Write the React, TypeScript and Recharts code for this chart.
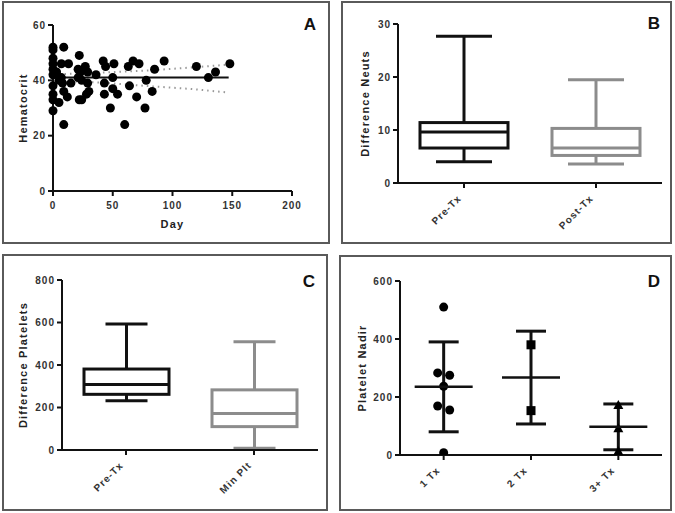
import React from 'react';
import { ComposedChart, XAxis, YAxis, Scatter, Line, Bar, ErrorBar, Label } from 'recharts';

const FONT = '"Liberation Sans", Arial, Helvetica, sans-serif';

// ---------- Panel A: Hematocrit vs Day ----------
const hctDays = [0, 0, 0, 0, 0, 0, 0, 0, 0, 0, 9, 7, 13, 5, 9, 12, 9, 7, 8, 15, 3, 5, 22, 21, 23, 27, 29, 21, 24, 29, 22, 24, 28, 30, 36, 42, 44, 51, 43, 50, 43, 54, 50, 48, 60, 63, 64, 67, 72, 70, 78, 77, 83, 85, 93, 120, 130, 136, 148];
const hctValues = [52, 51, 48, 46, 44, 42, 38, 35, 33, 29, 52, 46, 46, 32, 36, 34, 24, 41, 39, 39, 43, 40, 49, 44, 43, 45, 43, 41, 40, 39, 33, 33, 35, 36, 42, 47, 45, 46, 39, 41, 35, 35, 37, 30, 24, 45, 38, 47, 46, 34, 40, 30, 36, 44, 47, 45, 41, 43, 46];
const fitDays = [0, 147];
const fitValues = [41, 41];
const ciDays = [5, 40, 80, 115, 147];
const ciUpper = [42.2, 42.8, 43.6, 44.6, 45.7];
const ciLower = [39.8, 39.2, 37.9, 36.9, 35.6];
const dayTicks = [0, 50, 100, 150, 200];
const hctTicks = [0, 20, 40, 60];

// ---------- Panel B: Difference Neuts ----------
const neutCategories = ['Pre-Tx', 'Post-Tx'];
const neutMin = [4.0, 3.6];
const neutQ1 = [6.6, 5.2];
const neutMedian = [9.6, 6.6];
const neutQ3 = [11.4, 10.3];
const neutMax = [27.7, 19.5];
const neutTicks = [0, 10, 20, 30];

// ---------- Panel C: Difference Platelets ----------
const pltCategories = ['Pre-Tx', 'Min Plt'];
const pltMin = [232, 8];
const pltQ1 = [262, 110];
const pltMedian = [308, 172];
const pltQ3 = [381, 283];
const pltMax = [593, 510];
const pltTicks = [0, 200, 400, 600, 800];

// ---------- Panel D: Platelet Nadir ----------
const nadirCategories = ['1 Tx', '2 Tx', '3+ Tx'];
const nadir1Tx = [510, 283, 275, 237, 169, 155, 8];
const nadir1TxJitter = [0, -1, 1, 0, -1, 1, 0];
const nadir2Tx = [380, 153];
const nadir3Tx = [172, 92, 14];
const nadirMean = [235, 267, 97];
const nadirSD = [155, 160, 79];
const nadirTicks = [0, 200, 400, 600];

// ---------- derived tables ----------
const hctData = hctDays.map((d, i) => ({ day: d, hct: hctValues[i] }));
const fitData = fitDays.map((d, i) => ({ day: d, v: fitValues[i] }));
const upperData = ciDays.map((d, i) => ({ day: d, v: ciUpper[i] }));
const lowerData = ciDays.map((d, i) => ({ day: d, v: ciLower[i] }));

const neutData = neutCategories.map((n, i) => ({ name: n, min: neutMin[i], q1: neutQ1[i], median: neutMedian[i], q3: neutQ3[i], max: neutMax[i] }));
const pltData = pltCategories.map((n, i) => ({ name: n, min: pltMin[i], q1: pltQ1[i], median: pltMedian[i], q3: pltQ3[i], max: pltMax[i] }));

const d1 = nadir1Tx.map((v, i) => ({ x: 0, y: v, jitter: nadir1TxJitter[i] }));
const d2 = nadir2Tx.map((v) => ({ x: 1, y: v, jitter: 0 }));
const d3 = nadir3Tx.map((v) => ({ x: 2, y: v, jitter: 0 }));
const dMean = nadirCategories.map((n, i) => ({ x: i, mean: nadirMean[i], sd: nadirSD[i] }));

// ---------- styles ----------
const tickStyle = { fontSize: 10, fontWeight: 700, fill: '#333', fontFamily: FONT, letterSpacing: 1 };
const labelStyle = { fontSize: 11, fontWeight: 700, fill: '#222', fontFamily: FONT, letterSpacing: 1.2 };
const axisLine = { stroke: '#111', strokeWidth: 2 };
const BLACK = '#111';
const GREY = '#8c8c8c';
const COLORS = [BLACK, GREY];

const yLabel = (text: string, dx: number) => (props: any) => {
  const vb = props.viewBox || {};
  const cx = vb.x + dx;
  const cy = vb.y + vb.height / 2;
  return (
    <text x={cx} y={cy} transform={`rotate(-90 ${cx} ${cy})`} textAnchor="middle" dominantBaseline="central" style={labelStyle}>
      {text}
    </text>
  );
};

const xLabel = (text: string, dy: number) => (props: any) => {
  const vb = props.viewBox || {};
  return (
    <text x={vb.x + vb.width / 2} y={vb.y + dy} textAnchor="middle" style={labelStyle}>
      {text}
    </text>
  );
};

const makeRotTick = (labels: string[] | null, ox: number, oy: number) => (props: any) => {
  const { x, y, payload } = props;
  const txt = labels ? labels[Math.round(payload.value)] : payload.value;
  const px = x + ox;
  const py = y + oy;
  return (
    <text x={px} y={py} transform={`rotate(-45 ${px} ${py})`} textAnchor="end" style={tickStyle}>
      {txt}
    </text>
  );
};

const makeBoxShape = (capWidth: number) => (props: any) => {
  const { x, y, width, height, payload, index } = props;
  const top = Math.min(y, y + height);
  const bot = Math.max(y, y + height);
  const { min, q1, median, q3, max } = payload;
  const py = (v: number) => bot - ((v - min) / (max - min)) * (bot - top);
  const cx = x + width / 2;
  const color = COLORS[index] || BLACK;
  const sw = 3;
  return (
    <g>
      <line x1={cx} x2={cx} y1={py(max)} y2={py(q3)} stroke={color} strokeWidth={sw} />
      <line x1={cx} x2={cx} y1={py(q1)} y2={py(min)} stroke={color} strokeWidth={sw} />
      <line x1={cx - capWidth / 2} x2={cx + capWidth / 2} y1={py(max)} y2={py(max)} stroke={color} strokeWidth={sw} />
      <line x1={cx - capWidth / 2} x2={cx + capWidth / 2} y1={py(min)} y2={py(min)} stroke={color} strokeWidth={sw} />
      <rect x={x} y={py(q3)} width={width} height={py(q1) - py(q3)} fill="#fff" stroke={color} strokeWidth={sw} />
      <line x1={x} x2={x + width} y1={py(median)} y2={py(median)} stroke={color} strokeWidth={sw} />
    </g>
  );
};

const dotShape = (props: any) => <circle cx={props.cx} cy={props.cy} r={4.5} fill="#000" />;
const circleJitter = (props: any) => <circle cx={props.cx + (props.payload.jitter || 0) * 6} cy={props.cy} r={4.5} fill="#000" />;
const squareShape = (props: any) => <rect x={props.cx - 4.5} y={props.cy - 4.5} width={9} height={9} fill="#000" />;
const triShape = (props: any) => (
  <polygon points={`${props.cx},${props.cy - 5} ${props.cx - 5},${props.cy + 4} ${props.cx + 5},${props.cy + 4}`} fill="#000" />
);
const meanShape = (props: any) => <line x1={props.cx - 29} x2={props.cx + 29} y1={props.cy} y2={props.cy} stroke={BLACK} strokeWidth={2.5} />;

const Panel = ({ left, top, width, height, children }: any) => (
  <>
    <div style={{ position: 'absolute', left, top, width, height, boxSizing: 'border-box', border: '2px solid #5a5a5a' }} />
    <div style={{ position: 'absolute', left, top, width, height }}>{children}</div>
  </>
);

export default function App() {
  return (
    <div style={{ position: 'absolute', left: 0, top: 0, width: 675, height: 513, background: '#fff', fontFamily: FONT, overflow: 'hidden' }}>
      {/* Panel A */}
      <Panel left={2} top={1} width={328} height={243}>
        <ComposedChart width={328} height={243} margin={{ top: 24, right: 38, bottom: 13, left: 11 }}>
          <XAxis type="number" dataKey="day" domain={[0, 200]} ticks={dayTicks} height={40} axisLine={axisLine} tickLine={axisLine} tickSize={5} tickMargin={6} tick={tickStyle} interval={0}>
            <Label content={xLabel('Day', 37)} />
          </XAxis>
          <YAxis type="number" domain={[0, 60]} ticks={hctTicks} width={40} axisLine={axisLine} tickLine={axisLine} tickSize={5} tick={tickStyle} interval={0}>
            <Label content={yLabel('Hematocrit', 10)} />
          </YAxis>
          <Line data={upperData} dataKey="v" stroke="#999" strokeWidth={2} strokeDasharray="1.5 4" dot={false} isAnimationActive={false} />
          <Line data={lowerData} dataKey="v" stroke="#999" strokeWidth={2} strokeDasharray="1.5 4" dot={false} isAnimationActive={false} />
          <Scatter data={hctData} dataKey="hct" shape={dotShape} isAnimationActive={false} />
          <Line data={fitData} dataKey="v" stroke={BLACK} strokeWidth={2} dot={false} isAnimationActive={false} />
        </ComposedChart>
      </Panel>

      {/* Panel B */}
      <Panel left={341} top={1} width={331} height={243}>
        <ComposedChart width={331} height={243} data={neutData} margin={{ top: 23, right: 10, bottom: 11, left: 17 }}>
          <XAxis dataKey="name" height={50} axisLine={axisLine} tickLine={axisLine} tickSize={5} tick={makeRotTick(null, -2, 9)} interval={0} />
          <YAxis type="number" domain={[0, 30]} ticks={neutTicks} width={40} axisLine={axisLine} tickLine={axisLine} tickSize={5} tick={tickStyle} interval={0}>
            <Label content={yLabel('Difference Neuts', 7)} />
          </YAxis>
          <Bar dataKey={(d: any) => [d.min, d.max]} barSize={88} shape={makeBoxShape(56)} isAnimationActive={false} />
        </ComposedChart>
      </Panel>

      {/* Panel C */}
      <Panel left={2} top={254} width={326} height={257}>
        <ComposedChart width={326} height={257} data={pltData} margin={{ top: 26, right: 10, bottom: 11, left: 20 }}>
          <XAxis dataKey="name" height={50} axisLine={axisLine} tickLine={axisLine} tickSize={5} tick={makeRotTick(null, -2, 9)} interval={0} />
          <YAxis type="number" domain={[0, 800]} ticks={pltTicks} width={40} axisLine={axisLine} tickLine={axisLine} tickSize={5} tick={tickStyle} interval={0}>
            <Label content={yLabel('Difference Platelets', 1)} />
          </YAxis>
          <Bar dataKey={(d: any) => [d.min, d.max]} barSize={85} shape={makeBoxShape(42)} isAnimationActive={false} />
        </ComposedChart>
      </Panel>

      {/* Panel D */}
      <Panel left={339} top={255} width={333} height={256}>
        <ComposedChart width={333} height={256} margin={{ top: 26, right: 10, bottom: 6, left: 21 }}>
          <XAxis type="number" dataKey="x" domain={[-0.5, 2.5]} ticks={[0, 1, 2]} height={50} axisLine={axisLine} tickLine={axisLine} tickSize={5} tick={makeRotTick(nadirCategories, -3, 9)} interval={0} />
          <YAxis type="number" domain={[0, 600]} ticks={nadirTicks} width={40} axisLine={axisLine} tickLine={axisLine} tickSize={5} tick={tickStyle} interval={0} allowDataOverflow>
            <Label content={yLabel('Platelet Nadir', 2)} />
          </YAxis>
          <Scatter data={d1} dataKey="y" shape={circleJitter} isAnimationActive={false} />
          <Scatter data={d2} dataKey="y" shape={squareShape} isAnimationActive={false} />
          <Scatter data={d3} dataKey="y" shape={triShape} isAnimationActive={false} />
          <Scatter data={dMean} dataKey="mean" shape={meanShape} isAnimationActive={false}>
            <ErrorBar dataKey="sd" direction="y" width={15} strokeWidth={3} stroke={BLACK} />
          </Scatter>
        </ComposedChart>
      </Panel>

      {/* Panel letters */}
      <svg width={675} height={513} style={{ position: 'absolute', left: 0, top: 0, pointerEvents: 'none' }}>
        <text x={310} y={30} textAnchor="middle" style={{ fontSize: 17, fontWeight: 700, fontFamily: FONT, fill: '#111' }}>A</text>
        <text x={654} y={29} textAnchor="middle" style={{ fontSize: 17, fontWeight: 700, fontFamily: FONT, fill: '#111' }}>B</text>
        <text x={309} y={287} textAnchor="middle" style={{ fontSize: 17, fontWeight: 700, fontFamily: FONT, fill: '#111' }}>C</text>
        <text x={654} y={287} textAnchor="middle" style={{ fontSize: 17, fontWeight: 700, fontFamily: FONT, fill: '#111' }}>D</text>
      </svg>
    </div>
  );
}
